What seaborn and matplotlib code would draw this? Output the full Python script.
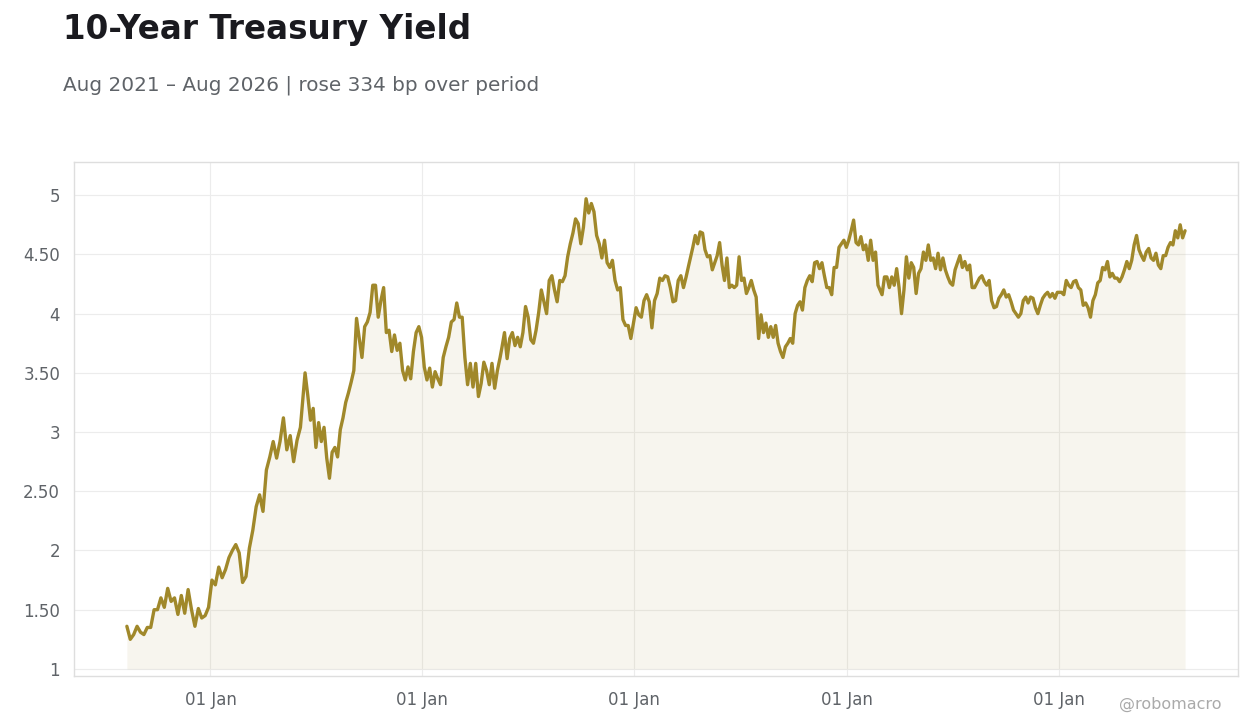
import numpy as np
import pandas as pd
import matplotlib
matplotlib.use("Agg")
import matplotlib.pyplot as plt
import matplotlib.dates as mdates
from matplotlib.ticker import FuncFormatter
import seaborn as sns

# 10y yield, in six stretches (start date, end date, values)
seg1_dates = ("2021-08-10", "2022-06-05")
seg1 = [1.36, 1.25, 1.29, 1.36, 1.31, 1.29, 1.35, 1.35, 1.50, 1.50, 1.60, 1.52, 1.68,
        1.57, 1.60, 1.46, 1.62, 1.47, 1.67, 1.50, 1.36, 1.51, 1.43, 1.45, 1.52, 1.75,
        1.71, 1.86, 1.77, 1.84, 1.94, 2.00, 2.05, 1.98, 1.73, 1.78, 2.02, 2.17, 2.37,
        2.47, 2.33, 2.68, 2.79, 2.92, 2.78, 2.92, 3.12, 2.85, 2.97, 2.75, 2.93, 3.04]

seg2_dates = ("2022-06-13", "2023-05-15")
seg2 = [3.50, 3.31, 3.10, 3.20, 2.87, 3.08, 2.92, 3.04, 2.78, 2.61, 2.83, 2.87, 2.79,
        3.02, 3.12, 3.25, 3.33, 3.42, 3.52, 3.96, 3.79, 3.63, 3.89, 3.93, 4.01, 4.24,
        4.24, 3.97, 4.11, 4.22, 3.84, 3.86, 3.68, 3.82, 3.69, 3.75, 3.52, 3.44, 3.55,
        3.45, 3.68, 3.84, 3.89, 3.80, 3.55, 3.44, 3.54, 3.38, 3.51, 3.45, 3.40, 3.63,
        3.72, 3.80, 3.93, 3.95, 4.09, 3.97, 3.97, 3.63, 3.40, 3.58, 3.38, 3.58, 3.30,
        3.41, 3.59, 3.52, 3.40, 3.58, 3.37, 3.52, 3.63]

seg3_dates = ("2023-05-18", "2024-04-04")
seg3 = [3.71, 3.84, 3.62, 3.79, 3.84, 3.73, 3.80, 3.72, 3.84, 4.06, 3.97, 3.78, 3.75,
        3.86, 4.01, 4.20, 4.10, 4.00, 4.28, 4.32, 4.20, 4.10, 4.28, 4.27, 4.32, 4.48,
        4.59, 4.68, 4.80, 4.76, 4.59, 4.73, 4.97, 4.85, 4.93, 4.86, 4.66, 4.59, 4.47,
        4.62, 4.43, 4.39, 4.45, 4.28, 4.20, 4.22, 3.95, 3.90, 3.90, 3.79, 3.92, 4.05,
        3.99, 3.97, 4.11, 4.16, 4.10, 3.88, 4.11, 4.17, 4.30, 4.28, 4.32, 4.31, 4.22,
        4.10, 4.11, 4.28, 4.32, 4.22, 4.31, 4.41]

seg4_dates = ("2024-04-11", "2025-02-24")
seg4 = [4.56, 4.66, 4.59, 4.69, 4.68, 4.54, 4.48, 4.49, 4.37, 4.43, 4.49, 4.60, 4.41,
        4.28, 4.47, 4.22, 4.24, 4.22, 4.24, 4.48, 4.28, 4.30, 4.17, 4.22, 4.28, 4.20,
        4.14, 3.79, 3.99, 3.84, 3.92, 3.80, 3.89, 3.80, 3.90, 3.75, 3.68, 3.63, 3.72,
        3.75, 3.79, 3.75, 4.00, 4.07, 4.10, 4.03, 4.22, 4.28, 4.32, 4.27, 4.43, 4.44,
        4.38, 4.43, 4.32, 4.22, 4.22, 4.16, 4.39, 4.39, 4.56, 4.59, 4.62, 4.56, 4.62,
        4.70, 4.79, 4.60, 4.58, 4.65, 4.54, 4.58, 4.45, 4.62, 4.45, 4.52, 4.24]

seg5_dates = ("2025-03-03", "2025-12-30")
seg5 = [4.16, 4.31, 4.31, 4.22, 4.31, 4.24, 4.38, 4.22, 4.00, 4.20, 4.48, 4.30, 4.43,
        4.39, 4.17, 4.34, 4.38, 4.52, 4.45, 4.58, 4.45, 4.47, 4.38, 4.51, 4.37, 4.47,
        4.37, 4.31, 4.26, 4.24, 4.37, 4.43, 4.49, 4.39, 4.44, 4.37, 4.41, 4.22, 4.22,
        4.26, 4.30, 4.32, 4.27, 4.24, 4.28, 4.11, 4.05, 4.06, 4.13, 4.16, 4.20, 4.14,
        4.16, 4.10, 4.03, 4.00, 3.97, 4.00, 4.11, 4.14, 4.09, 4.14, 4.13, 4.05, 4.00,
        4.07, 4.13, 4.16, 4.18, 4.14, 4.17, 4.13, 4.18]

seg6_dates = ("2026-01-06", "2026-08-07")
seg6 = [4.18, 4.16, 4.28, 4.24, 4.22, 4.27, 4.28, 4.22, 4.20, 4.07, 4.09, 4.05, 3.97,
        4.11, 4.16, 4.26, 4.28, 4.39, 4.37, 4.44, 4.31, 4.34, 4.30, 4.30, 4.27, 4.31,
        4.37, 4.44, 4.38, 4.45, 4.58, 4.66, 4.54, 4.49, 4.45, 4.52, 4.55, 4.47, 4.45,
        4.51, 4.41, 4.38, 4.49, 4.49, 4.56, 4.60, 4.58, 4.70, 4.64, 4.75, 4.64, 4.70]

y_ticks = [1, 1.5, 2, 2.5, 3, 3.5, 4, 4.5, 5]

frames = []
for (d0, d1), vals in [(seg1_dates, seg1), (seg2_dates, seg2), (seg3_dates, seg3),
                       (seg4_dates, seg4), (seg5_dates, seg5), (seg6_dates, seg6)]:
    frames.append(pd.DataFrame({"date": pd.date_range(d0, d1, periods=len(vals)),
                                "yield": vals}))
df = pd.concat(frames, ignore_index=True)

sns.set_style("white")
plt.rcParams["font.family"] = ["DejaVu Sans"]

line_col = "#A0882A"
text_col = "#5f6368"

fig = plt.figure(figsize=(12.6, 7.28), dpi=100)
ax = fig.add_axes([0.0587, 0.0714, 0.9238, 0.706])

ax.grid(True, color="#ececec", linewidth=0.8, zorder=0)
ax.fill_between(df["date"], df["yield"], 1, color=line_col, alpha=0.08,
                linewidth=0, zorder=1)
sns.lineplot(data=df, x="date", y="yield", ax=ax, color=line_col, linewidth=2.4,
             zorder=2)

ax.set_ylim(0.94, 5.28)
ax.set_yticks(y_ticks)
ax.yaxis.set_major_formatter(FuncFormatter(
    lambda v, p: f"{v:.0f}" if float(v).is_integer() else f"{v:.2f}"))
ax.xaxis.set_major_locator(mdates.YearLocator())
ax.xaxis.set_major_formatter(mdates.DateFormatter("%d %b"))
ax.margins(x=0.05)
ax.set_xlabel("")
ax.set_ylabel("")

ax.tick_params(axis="y", length=4, color="#bbbbbb", labelsize=12, labelcolor=text_col, pad=6)
ax.tick_params(axis="x", length=5, color="#555555", labelsize=12, labelcolor=text_col, pad=6)
for s in ax.spines.values():
    s.set_color("#dedede")
    s.set_linewidth(1)

fig.text(63 / 1260, 1 - 29 / 728, "10-Year Treasury Yield", fontsize=23.5,
         fontweight="bold", color="#1a1a1f", va="center", ha="left")
fig.text(63 / 1260, 1 - 85 / 728, "Aug 2021 – Aug 2026 | rose 334 bp over period",
         fontsize=14.4, color=text_col, va="center", ha="left")
fig.text(1222 / 1260, 1 - 704 / 728, "@robomacro", fontsize=11.5, color="#aaaaaa",
         va="center", ha="right")

fig.savefig("out.png", dpi=100)
